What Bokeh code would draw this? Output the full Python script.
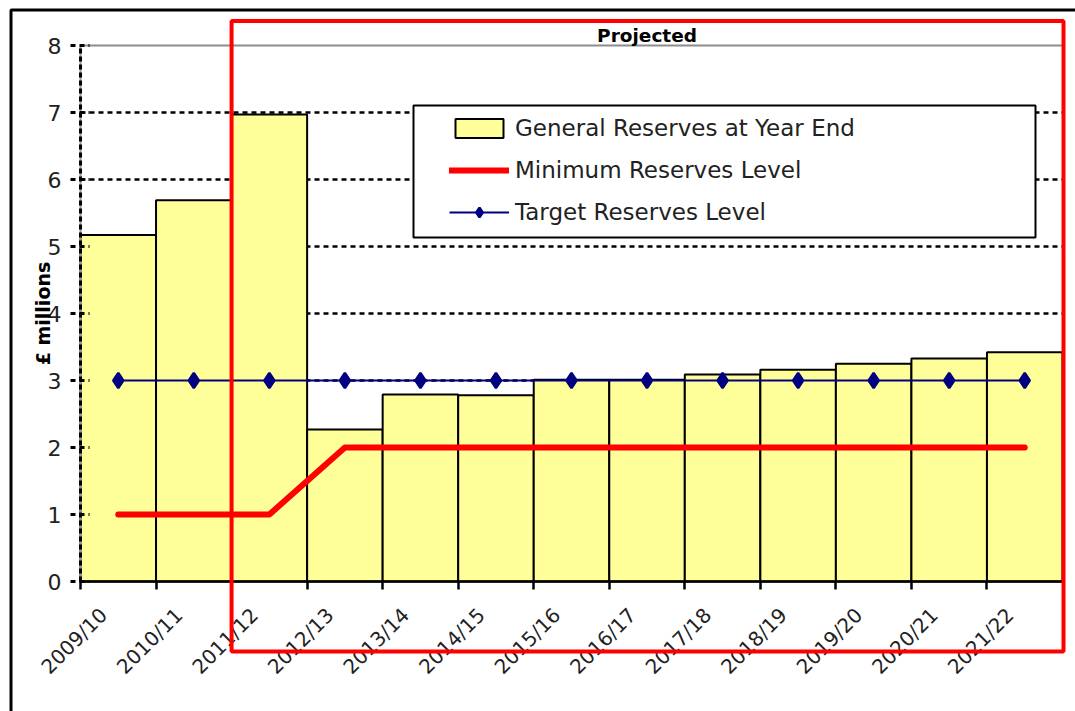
import math
from bokeh.plotting import figure
from bokeh.models import (Range1d, FixedTicker, ColumnDataSource, LabelSet, Label,
                          BoxAnnotation, Legend, LegendItem)
from bokeh.core.properties import value
from bokeh.embed import file_html
from bokeh.resources import INLINE

# ---------------- data ----------------
years = ["2009/10", "2010/11", "2011/12", "2012/13", "2013/14", "2014/15", "2015/16",
         "2016/17", "2017/18", "2018/19", "2019/20", "2020/21", "2021/22"]
general_reserves = [5.17, 5.69, 6.97, 2.27, 2.79, 2.78, 3.01, 3.01, 3.09, 3.16, 3.25, 3.33, 3.42]
minimum_reserves = [1, 1, 1, 2, 2, 2, 2, 2, 2, 2, 2, 2, 2]
target_reserves = [3, 3, 3, 3, 3, 3, 3, 3, 3, 3, 3, 3, 3]
projected_from = "2011/12"
y_ticks = [0, 1, 2, 3, 4, 5, 6, 7, 8]
y_label = "£ millions"
projected_label = "Projected"
series_names = ["General Reserves at Year End", "Minimum Reserves Level", "Target Reserves Level"]

FONT = "DejaVu Sans"

# ---------------- layout (pixels) ----------------
W, H = 1075, 711
PLOT_L, PLOT_R = 80, 1062      # pixel x of first / last category boundary
PLOT_T, PLOT_B = 45, 581       # pixel y of top / bottom tick

n = len(years)
ymax = y_ticks[-1]
px_x = (PLOT_R - PLOT_L) / n
px_y = (PLOT_B - PLOT_T) / ymax


def dx(px):
    return (px - PLOT_L) / px_x


def dy(py):
    return (PLOT_B - py) / px_y


edges = list(range(n))
centers = [i + 0.5 for i in edges]

src = ColumnDataSource(dict(x=centers, edge=edges, year=years, gen=general_reserves,
                            mn=minimum_reserves, tg=target_reserves))

p = figure(width=W, height=H, x_range=Range1d(dx(0), dx(W)), y_range=Range1d(dy(H), dy(0)),
           output_backend="svg", toolbar_location=None, title=None,
           min_border_left=0, min_border_right=0, min_border_top=0, min_border_bottom=0)
p.outline_line_color = None
p.background_fill_color = "white"
p.border_fill_color = "white"
p.xgrid.visible = False
p.ygrid.visible = False

# grid lines (dotted) and grey top line
grid_y = y_ticks[1:-1]
p.segment(x0=[0] * len(grid_y), x1=[n] * len(grid_y), y0=grid_y, y1=grid_y,
          line_color="black", line_dash="5 4", line_width=2.5, level="underlay")
p.segment(x0=[0], x1=[n], y0=[ymax], y1=[ymax], line_color="#8c8c8c", line_width=2,
          level="underlay")

# glyphs
bars = p.vbar(x="x", top="gen", width=1, bottom=0, source=src,
              fill_color="#FFFF99", line_color="black", line_width=2)
p.segment(x0=[0], x1=[0], y0=[0], y1=[ymax], line_color="#999999", line_width=2)
mn_line = p.line("x", "mn", source=src, line_color="#FF0000", line_width=6,
                 line_cap="round", line_join="round")
tg_line = p.line("x", "tg", source=src, line_color="#000080", line_width=2)
tg_pts = p.scatter("x", "tg", source=src, marker="diamond", size=15, line_width=2.5,
                   fill_color="#000080", line_color="#000080")

# x axis
xa = p.xaxis[0]
xa.fixed_location = 0
xa.bounds = (0, n)
xa.ticker = FixedTicker(ticks=edges)
xa.major_label_overrides = {i: "" for i in edges}
xa.major_tick_out = 8
xa.major_tick_in = 0
xa.major_tick_line_width = 2.5
xa.axis_line_width = 2.5
xa.minor_tick_line_color = None

# y axis
ya = p.yaxis[0]
ya.fixed_location = 0
ya.bounds = (0, ymax)
ya.ticker = FixedTicker(ticks=y_ticks)
ya.major_label_text_font = FONT
ya.major_label_text_font_size = "22px"
ya.major_label_text_color = "#222222"
ya.major_label_standoff = 9
ya.major_tick_out = 10
ya.major_tick_in = 9
ya.major_tick_line_dash = "5 4"
ya.major_tick_line_width = 3
ya.minor_tick_line_color = None
ya.axis_line_dash = "5 3"
ya.axis_line_width = 3
ya.axis_label = y_label
ya.axis_label_text_font = FONT
ya.axis_label_text_font_size = "19px"
ya.axis_label_text_font_style = "bold"
ya.axis_label_text_color = "black"
ya.axis_label_standoff = -9

# x tick labels (rotated)
labels = LabelSet(x="edge", y=dy(611), text="year", source=src, angle=math.pi / 4,
                  x_offset=23, text_align="right", text_baseline="middle",
                  text_font=value(FONT), text_font_size=value("20px"),
                  text_color="#222222")
p.add_layout(labels)

# projected region
pstart = years.index(projected_from)
proj_box = BoxAnnotation(left=pstart, right=dx(1063), top=dy(20.5), bottom=dy(651),
                         fill_color=None, fill_alpha=0, line_color="#FF0000", line_alpha=1,
                         line_width=4)
p.add_layout(proj_box)
proj_label = Label(x=(pstart + n) / 2, y=dy(35), text=projected_label,
                   text_align="center", text_baseline="middle",
                   text_font=FONT, text_font_size="18.5px", text_font_style="bold",
                   text_color="black")
p.add_layout(proj_label)

# outer frame
frame_box = BoxAnnotation(left=dx(10.5), right=dx(W + 20), top=dy(9.5), bottom=dy(H + 20),
                          fill_color=None, fill_alpha=0, line_color="black", line_alpha=1,
                          line_width=3)
p.add_layout(frame_box)

# legend
leg_box = BoxAnnotation(left=dx(413), right=dx(1035), top=dy(105), bottom=dy(237),
                        fill_color="white", fill_alpha=1, line_color="black", line_alpha=1,
                        line_width=2)
p.add_layout(leg_box)
legend = Legend(items=[LegendItem(label=series_names[0], renderers=[bars]),
                       LegendItem(label=series_names[1], renderers=[mn_line]),
                       LegendItem(label=series_names[2], renderers=[tg_line, tg_pts])],
                location=(449, H - 225), padding=0, margin=0, spacing=16,
                glyph_width=60, glyph_height=24, label_standoff=6,
                label_text_font=FONT, label_text_font_size="23px", label_text_color="#222222",
                background_fill_alpha=0, border_line_color=None)
p.add_layout(legend)

open("out.html", "w").write(file_html(p, INLINE))
